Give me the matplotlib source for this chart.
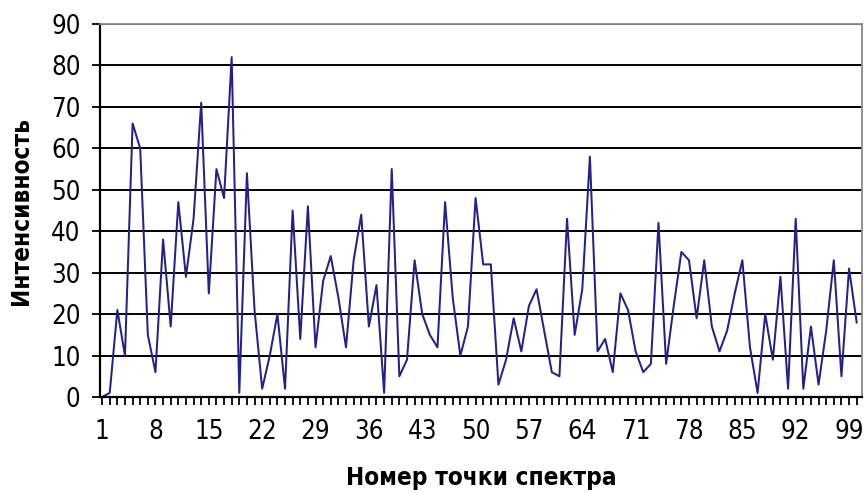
import matplotlib
matplotlib.use("Agg")
import matplotlib.pyplot as plt
import numpy as np
from matplotlib.ticker import FixedLocator, MultipleLocator

# spectrum intensity per point, 1..100
intensity = [
    0, 1, 21, 10, 66, 60, 15, 6, 38, 17,
    47, 29, 43, 71, 25, 55, 48, 82, 1, 54,
    21, 2, 10, 20, 2, 45, 14, 46, 12, 28,
    34, 24, 12, 33, 44, 17, 27, 1, 55, 5,
    9, 33, 20, 15, 12, 47, 24, 10, 17, 48,
    32, 32, 3, 9, 19, 11, 22, 26, 16, 6,
    5, 43, 15, 26, 58, 11, 14, 6, 25, 21,
    11, 6, 8, 42, 8, 22, 35, 33, 19, 33,
    17, 11, 16, 25, 33, 12, 1, 20, 9, 29,
    2, 43, 2, 17, 3, 16, 33, 5, 31, 18,
]
points = np.arange(1, len(intensity) + 1)
label_points = list(range(1, 101, 7))

plt.rcParams["font.family"] = ["DejaVu Sans"]
plt.rcParams["font.stretch"] = "condensed"

fig = plt.figure(figsize=(8.64, 4.93), dpi=100)
ax = fig.add_axes([0.1157, 0.1947, 0.882, 0.7566])

ax.plot(points, intensity, color="#222288", linewidth=1.45)

ax.set_xlim(0.72, 100.7)
ax.set_ylim(0, 90)

ax.yaxis.set_major_locator(MultipleLocator(10))
ax.grid(axis="y", color="black", linewidth=1.4)
ax.set_axisbelow(True)

ax.xaxis.set_major_locator(FixedLocator(label_points))
ax.xaxis.set_minor_locator(FixedLocator(points))
ax.tick_params(axis="x", which="both", direction="out", length=6, width=1.3, color="black")
ax.tick_params(axis="x", which="major", labelsize=18.5, pad=10)
ax.tick_params(axis="y", direction="out", length=6, width=1.3, labelsize=18.5, pad=8)

for side in ("left", "bottom"):
    ax.spines[side].set_color("black")
    ax.spines[side].set_linewidth(1.6)
for side in ("top", "right"):
    ax.spines[side].set_color("#8a8a8a")
    ax.spines[side].set_linewidth(1.3)

ax.set_ylabel("Интенсивность", fontsize=17.5, fontweight="bold", labelpad=13)
ax.set_xlabel("Номер точки спектра", fontsize=17.5, fontweight="bold", labelpad=15)

fig.savefig("out.png", dpi=100)
